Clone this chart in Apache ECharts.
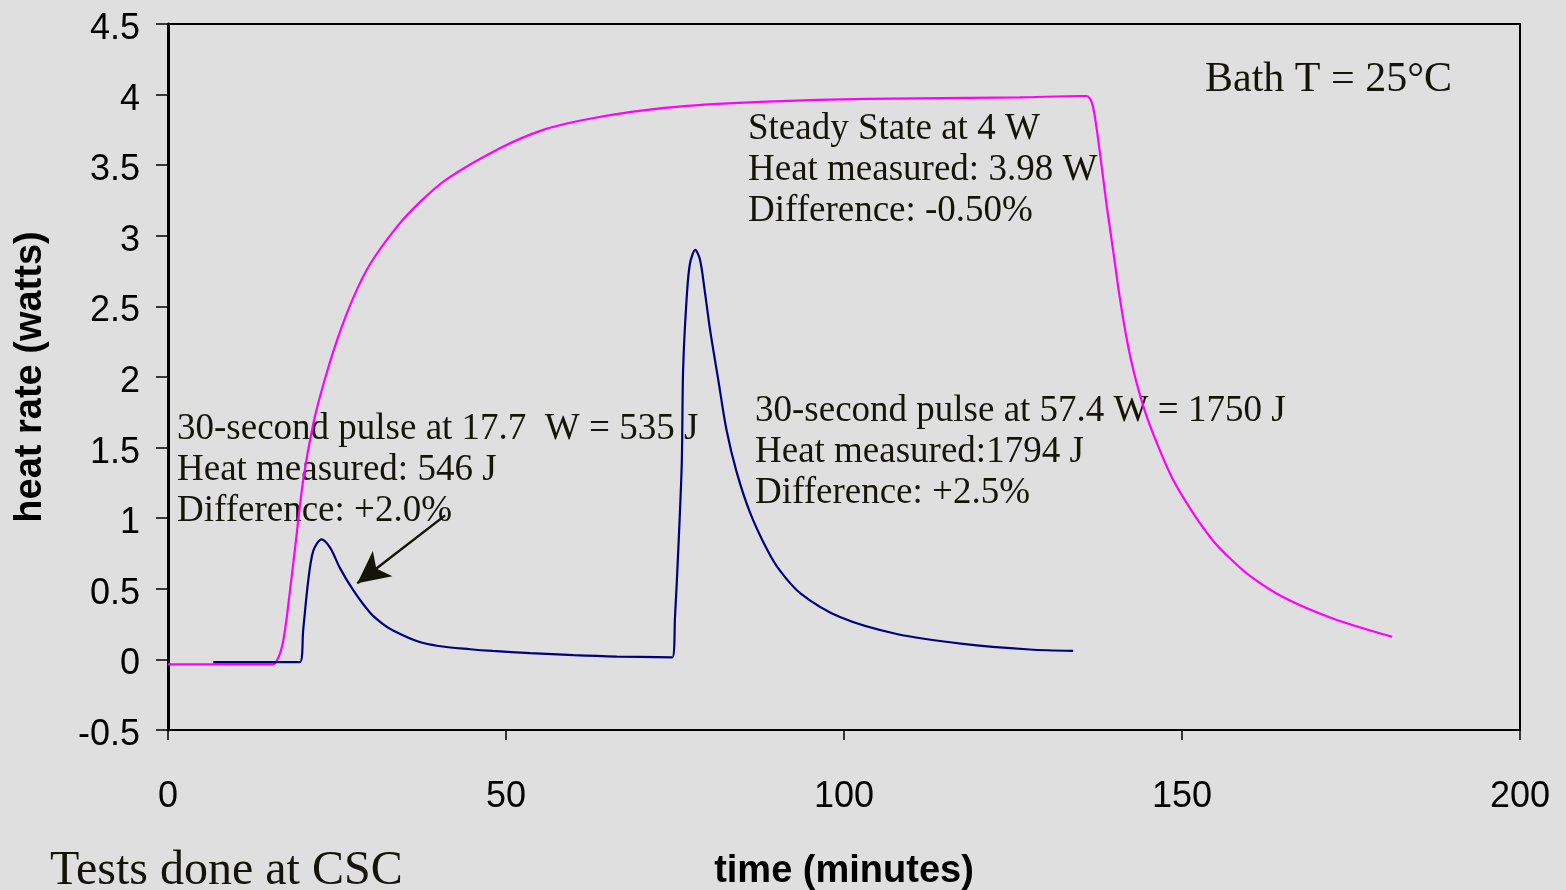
<!DOCTYPE html>
<html>
<head>
<meta charset="utf-8">
<script src="https://cdn.jsdelivr.net/npm/echarts@6/dist/echarts.min.js"></script>
<style>
html,body{margin:0;padding:0;background:#dfdfdf;}
#chart{width:1566px;height:890px;}
</style>
</head>
<body>
<div id="chart"></div>
<script>
// Magenta: steady state at 4 W  [time (min), heat rate (W)]
const steadyTime = [0, 15.5, 16.3, 17.0, 17.6, 18.8, 20.0, 21.5, 23.0, 25.0, 27.4, 29.9, 33.8, 37.3, 41.2, 49.1, 55.5, 61.4, 68.8, 76.8, 88.6, 103.4, 126, 134.9, 135.9, 136.7, 137.4, 138.2, 138.9, 139.8, 140.8, 141.9, 143.0, 144.5, 146.3, 148.7, 151.6, 154.6, 157.0, 160.1, 165.0, 172.3, 181.1];
const steadyVals = [-0.035, -0.035, 0.01, 0.12, 0.31, 0.79, 1.27, 1.67, 1.95, 2.26, 2.56, 2.80, 3.06, 3.24, 3.40, 3.62, 3.75, 3.82, 3.88, 3.92, 3.95, 3.97, 3.98, 3.99, 3.99, 3.94, 3.75, 3.46, 3.20, 2.90, 2.56, 2.25, 2.01, 1.76, 1.53, 1.27, 1.04, 0.84, 0.72, 0.59, 0.44, 0.29, 0.16];
// Navy: two 30-second pulses
const pulseTime = [6.7, 19.5, 20.0, 20.75, 21.5, 22.7, 24.0, 25.4, 27.4, 29.9, 31.8, 33.3, 36.8, 40.0, 44.7, 48.0, 53.6, 60.0, 66.4, 74.6, 75.0, 75.5, 76.0, 76.2, 76.7, 77.2, 78.0, 78.7, 79.4, 80.2, 81.4, 82.6, 84.1, 86.1, 88.6, 90.5, 93.5, 99.4, 107.8, 117.6, 127.5, 133.9];
const pulseVals = [-0.02, -0.02, 0.21, 0.56, 0.77, 0.85, 0.79, 0.65, 0.49, 0.33, 0.25, 0.205, 0.13, 0.095, 0.072, 0.06, 0.045, 0.03, 0.02, 0.015, 0.30, 0.79, 1.39, 2.05, 2.54, 2.80, 2.90, 2.83, 2.61, 2.33, 1.98, 1.63, 1.33, 1.04, 0.78, 0.63, 0.47, 0.30, 0.18, 0.11, 0.07, 0.06];
// Arrow annotation (data coordinates)
const arrowFrom = [41.0, 1.02];
const arrowTo = [28.0, 0.54];
const xTicks = {min: 0, max: 200, interval: 50};
const yTicks = {min: -0.5, max: 4.5, interval: 0.5};

const zip = (a, b) => a.map((t, i) => [t, b[i]]);
const serif = '"Liberation Serif", "Times New Roman", serif';
const sans = '"Liberation Sans", Arial, sans-serif';
const txtColor = '#14140a';

const chart = echarts.init(document.getElementById('chart'));
chart.setOption({
  backgroundColor: '#dfdfdf',
  animation: false,
  grid: {left: 168, right: 46, top: 24, bottom: 160, containLabel: false, outerBoundsMode: 'none',
         show: true, borderColor: '#000', borderWidth: 2, backgroundColor: 'transparent'},
  xAxis: {
    type: 'value', min: xTicks.min, max: xTicks.max, interval: xTicks.interval,
    name: 'time (minutes)', nameLocation: 'middle', nameGap: 123,
    nameTextStyle: {fontFamily: sans, fontWeight: 'bold', fontSize: 38, color: '#000'},
    axisLine: {show: true, onZero: false, lineStyle: {color: '#000', width: 2}},
    axisTick: {show: true, length: 10, lineStyle: {color: '#000', width: 1.5}},
    axisLabel: {fontFamily: sans, fontSize: 36, color: '#000', margin: 49},
    splitLine: {show: false}
  },
  yAxis: {
    type: 'value', min: yTicks.min, max: yTicks.max, interval: yTicks.interval,
    name: 'heat rate (watts)', nameLocation: 'middle', nameGap: 118,
    nameTextStyle: {fontFamily: sans, fontWeight: 'bold', fontSize: 38, color: '#000'},
    axisLine: {show: true, onZero: false, lineStyle: {color: '#000', width: 3}},
    axisTick: {show: true, length: 12, lineStyle: {color: '#000', width: 1.5}},
    axisLabel: {fontFamily: sans, fontSize: 36, color: '#000', margin: 28, verticalAlign: 'top', lineHeight: 10},
    splitLine: {show: false}
  },
  series: [
    {
      type: 'line', name: 'steady', data: zip(steadyTime, steadyVals),
      showSymbol: false, smooth: 0.3, lineStyle: {color: '#ff00ff', width: 2.2}
    },
    {
      type: 'line', name: 'pulse', data: zip(pulseTime, pulseVals),
      showSymbol: false, smooth: 0.3, lineStyle: {color: '#000080', width: 2.2},
      markLine: {
        silent: true, symbol: ['none', 'arrow'], symbolSize: [24, 32],
        label: {show: false},
        lineStyle: {color: '#14140a', width: 2.5, type: 'solid'},
        data: [[{coord: arrowFrom}, {coord: arrowTo}]]
      }
    }
  ],
  graphic: [
    {type: 'text', left: 1205, top: 59, style: {text: 'Bath T = 25°C', font: '42px ' + serif, fill: txtColor}},
    {type: 'text', left: 748, top: 109, style: {text: 'Steady State at 4 W\nHeat measured: 3.98 W\nDifference: -0.50%', font: '37px ' + serif, lineHeight: 41, fill: txtColor}},
    {type: 'text', left: 177, top: 409, style: {text: '30-second pulse at 17.7  W = 535 J\nHeat measured: 546 J\nDifference: +2.0%', font: '37px ' + serif, lineHeight: 41, fill: txtColor}},
    {type: 'text', left: 755, top: 391, style: {text: '30-second pulse at 57.4 W = 1750 J\nHeat measured:1794 J\nDifference: +2.5%', font: '37px ' + serif, lineHeight: 41, fill: txtColor}},
    {type: 'text', left: 50, top: 847, style: {text: 'Tests done at CSC', font: '48px ' + serif, fill: txtColor}}
  ]
});
</script>
</body>
</html>
